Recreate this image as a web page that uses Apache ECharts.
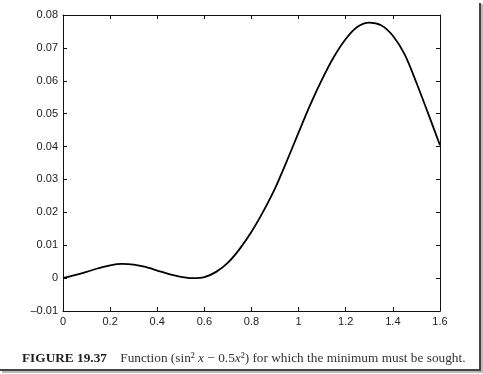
<!DOCTYPE html>
<html><head><meta charset="utf-8">
<script src="https://cdn.jsdelivr.net/npm/echarts@6/dist/echarts.min.js"></script>
<style>html,body{margin:0;padding:0;background:#fff;}#c{width:483px;height:374px;}</style>
</head><body><div id="c"></div>
<script>
var xValues = [0,0.05,0.1,0.15,0.2,0.25,0.3,0.35,0.4,0.45,0.5,0.55,0.6,0.65,0.7,0.75,0.8,0.85,0.9,0.95,1.0,1.05,1.1,1.15,1.2,1.25,1.3,1.35,1.4,1.45,1.5,1.55,1.6];
var yValues = [0,0.0009,0.0019,0.0030,0.0039,0.0043,0.0041,0.0034,0.0023,0.0012,0.0004,0.0000,0.0003,0.0019,0.0047,0.0089,0.0141,0.0203,0.0273,0.0356,0.0443,0.0528,0.0605,0.0673,0.0727,0.0764,0.0777,0.0769,0.0737,0.0680,0.0594,0.0500,0.0404];
var xTicks = [0,0.2,0.4,0.6,0.8,1,1.2,1.4,1.6];
var yTicks = [-0.01,0,0.01,0.02,0.03,0.04,0.05,0.06,0.07,0.08];
var captionLabel = 'FIGURE 19.37';
var captionText = 'Function (sin\u00B2 ';

var chart = echarts.init(document.getElementById('c'), null, {renderer:'canvas'});
var axisLineStyle = {color:'#111', width:1};
var lab = {color:'#222', fontFamily:'Liberation Sans, Arial, sans-serif', fontSize:11};
function fmt(v){ return String(v); }
chart.setOption({
  animation:false,
  grid:{left:63, right:43, top:15, bottom:63},
  xAxis:[
    {type:'value', min:0, max:1.6, interval:0.2, position:'bottom',
     axisLine:{show:true, onZero:false, lineStyle:axisLineStyle},
     axisTick:{show:true, inside:true, length:4, lineStyle:axisLineStyle},
     axisLabel:Object.assign({margin:5, formatter:function(v){var r=Math.round(v*10)/10; return xTicks.indexOf(r)>=0?fmt(r):'';}}, lab),
     splitLine:{show:false}},
    {type:'value', min:0, max:1.6, interval:0.2, position:'top',
     axisLine:{show:true, onZero:false, lineStyle:axisLineStyle},
     axisTick:{show:true, inside:true, length:4, lineStyle:axisLineStyle},
     axisLabel:{show:false}, splitLine:{show:false}}
  ],
  yAxis:[
    {type:'value', min:-0.01, max:0.08, interval:0.01, position:'left',
     axisLine:{show:true, onZero:false, lineStyle:axisLineStyle},
     axisTick:{show:true, inside:true, length:4, lineStyle:axisLineStyle},
     axisLabel:Object.assign({margin:5, formatter:function(v){var r=Math.round(v*100)/100; if(yTicks.indexOf(r)<0) return ''; return r===0?'0':(r<0?'\u20130.01':r.toFixed(2));}}, lab),
     splitLine:{show:false}},
    {type:'value', min:-0.01, max:0.08, interval:0.01, position:'right',
     axisLine:{show:true, onZero:false, lineStyle:axisLineStyle},
     axisTick:{show:true, inside:true, length:4, lineStyle:axisLineStyle},
     axisLabel:{show:false}, splitLine:{show:false}}
  ],
  series:[{
    type:'line', xAxisIndex:0, yAxisIndex:0, smooth:0.3, showSymbol:false,
    lineStyle:{color:'#000', width:1.8},
    data: xValues.map(function(x,i){return [x, yValues[i]];})
  }],
  graphic:[
    {type:'rect', shape:{x:479, y:3, width:2, height:368}, style:{fill:'#444'}, silent:true},
    {type:'rect', shape:{x:481, y:4, width:2, height:368}, style:{fill:'#bbb'}, silent:true},
    {type:'rect', shape:{x:0, y:369, width:481, height:2}, style:{fill:'#444'}, silent:true},
    {type:'rect', shape:{x:2, y:371, width:481, height:2}, style:{fill:'#bbb'}, silent:true},
    {type:'text', left:22, top:352, style:{
      rich:{
        b:{fontFamily:'Liberation Serif, Times New Roman, serif', fontWeight:'bold', fontSize:13.3, fill:'#222'},
        n:{fontFamily:'Liberation Serif, Times New Roman, serif', fontSize:13.3, fill:'#333'},
        i:{fontFamily:'Liberation Serif, Times New Roman, serif', fontStyle:'italic', fontSize:13.3, fill:'#333'}
      },
      text:'{b|' + captionLabel + '}{n|    ' + captionText + '}{i|x}{n| \u2212 0.5}{i|x}{n|\u00B2) for which the minimum must be sought.}'
    }}
  ]
});
</script>
</body></html>
